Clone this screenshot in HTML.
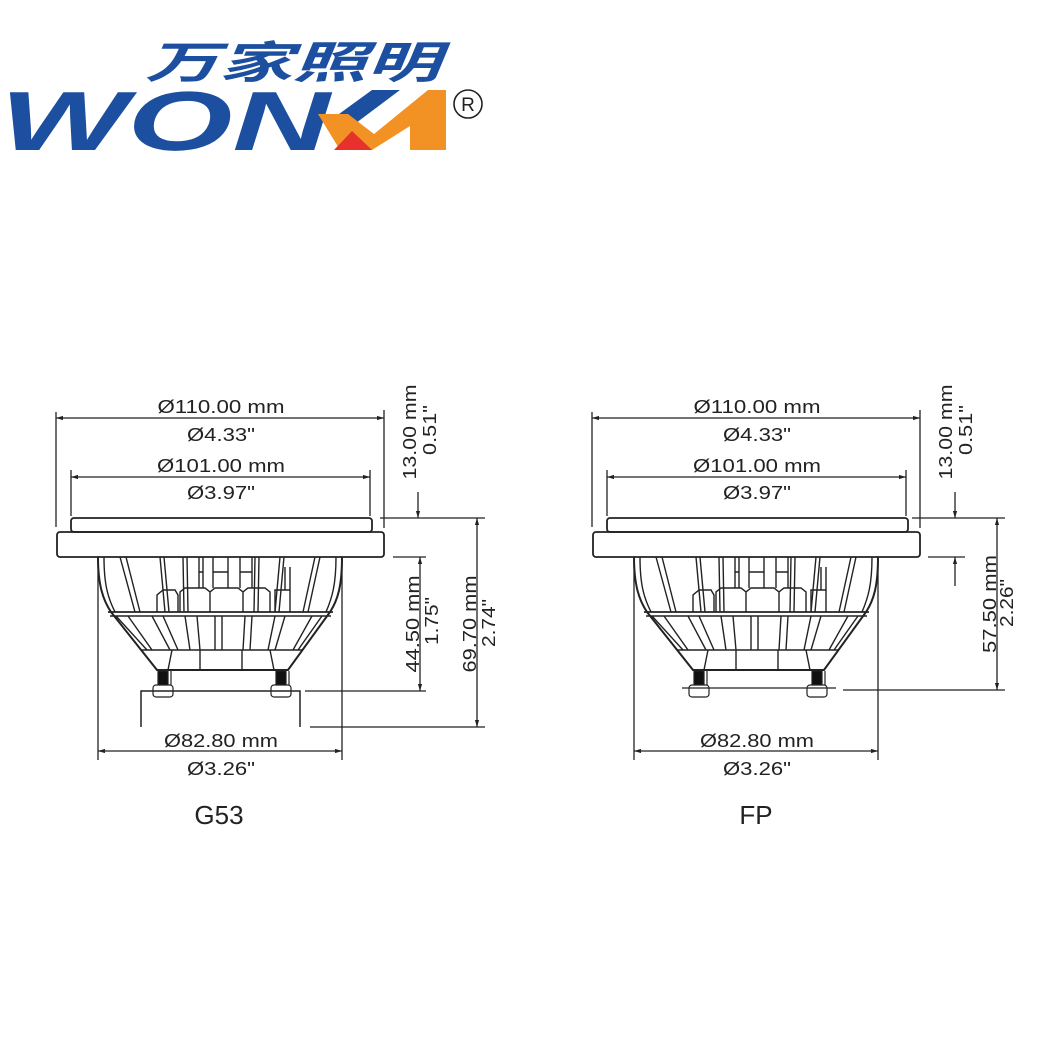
<!DOCTYPE html>
<html><head><meta charset="utf-8"><style>
html,body{margin:0;padding:0;background:#fff;}
svg{display:block;}
text{font-family:"Liberation Sans","Noto Sans CJK SC",sans-serif;fill:#222;}
</style></head><body>
<svg width="1060" height="1060" viewBox="0 0 1060 1060" xmlns="http://www.w3.org/2000/svg">
<defs>
<marker id="a" viewBox="0 0 10 10" refX="10" refY="5" markerWidth="7" markerHeight="7" orient="auto-start-reverse" markerUnits="userSpaceOnUse"><path d="M0,2 L10,5 L0,8 z" fill="#222"/></marker>
<g id="lamp" stroke="#222" fill="none" stroke-width="1.4">
  <rect x="71" y="518" width="301" height="14" rx="3" stroke-width="1.8"/>
  <rect x="57" y="532" width="327" height="25" rx="3" stroke-width="1.8"/>
  <path d="M98,557 C98,585 103,600 111,612 L157,670 L288,670 L330,612 C338,600 342,585 342,557" stroke-width="2"/>
  <path d="M104,557 C104,585 108,598 115,612 M336,557 C336,585 332,598 326,612"/>
  <line x1="108" y1="612" x2="333" y2="612" stroke-width="1.8"/>
  <line x1="110" y1="616" x2="331" y2="616"/>
  <line x1="141" y1="650" x2="303" y2="650"/>
  <line x1="157" y1="670" x2="288" y2="670"/>
  <path d="M120,557 L135,612 M126,557 L140,612 M160,557 L165,612 M164,557 L169,612 M183,557 L184,612 M187,557 L188,612 M255,557 L254,612 M259,557 L258,612 M280,557 L275,612 M284,557 L279,612 M315,557 L303,612 M320,557 L308,612"/>
  <path d="M157,612 L157,595 L163,590 L175,590 L178,595 L178,612 M180,612 L180,592 L185,588 L205,588 L210,592 L210,612 M210,612 L210,592 L215,588 L238,588 L243,592 L243,612 M243,612 L243,592 L248,588 L265,588 L270,592 L270,612 M275,612 L275,590 L290,590 L290,612"/>
  <path d="M199,588 L199,557 M203,588 L203,557 M199,572 L203,572 M213,588 L213,557 M228,588 L228,557 M213,572 L228,572 M240,588 L240,557 M252,588 L252,557 M240,572 L252,572 M285,590 L285,567 M290,590 L290,567"/>
  <path d="M116,616 L147,650 M128,616 L152,650 M152,616 L170,650 M163,616 L178,650 M185,616 L190,650 M197,616 L200,650 M215,616 L215,650 M222,616 L222,650 M245,616 L243,650 M252,616 L250,650 M275,616 L268,650 M285,616 L275,650 M312,616 L293,650 M322,616 L298,650"/>
  <path d="M172,650 L168,670 M270,650 L274,670 M200,650 L200,670 M242,650 L242,670"/>
</g>
<g id="pin" stroke="#222" stroke-width="1.2">
  <rect x="0" y="0" width="10" height="14" fill="#111"/>
  <line x1="13" y1="0" x2="13" y2="14" fill="none"/>
  <rect x="-5" y="14" width="20" height="12" rx="3" fill="#fff"/>
</g>
</defs>

<!-- LOGO -->
<text x="145" y="78" font-size="44" font-weight="bold" font-style="italic" style="fill:#1d4fa0" textLength="295" lengthAdjust="spacingAndGlyphs">万家照明</text>
<text x="0" y="150" font-size="84" font-weight="bold" font-style="italic" style="fill:#1d4fa0" textLength="330" lengthAdjust="spacingAndGlyphs">WON</text>
<polygon points="328,122 372,90 400,90 352,126" fill="#1d4fa0"/>
<polygon points="318,114 348,114 374,134 428,90 446,90 446,150 410,150 410,126 372,150 340,150" fill="#f39224"/>
<polygon points="334,150 352,131 372,150" fill="#e8302c"/>
<circle cx="468" cy="104" r="14" fill="none" stroke="#222" stroke-width="1.6"/>
<text x="468" y="111" font-size="19" text-anchor="middle">R</text>

<!-- G53 -->
<use href="#lamp"/>
<use href="#pin" x="158" y="671"/>
<use href="#pin" x="276" y="671"/>
<path d="M141,727 L141,691 L300,691 L300,727" stroke="#222" stroke-width="1.5" fill="none"/>

<g stroke="#222" stroke-width="1.3" fill="none">
  <line x1="56" y1="412" x2="56" y2="527"/><line x1="384" y1="410" x2="384" y2="528"/>
  <line x1="56" y1="418" x2="384" y2="418" marker-start="url(#a)" marker-end="url(#a)"/>
  <line x1="71" y1="470" x2="71" y2="516"/><line x1="370" y1="470" x2="370" y2="516"/>
  <line x1="71" y1="477" x2="370" y2="477" marker-start="url(#a)" marker-end="url(#a)"/>
  <line x1="98" y1="560" x2="98" y2="760"/><line x1="342" y1="560" x2="342" y2="760"/>
  <line x1="98" y1="751" x2="342" y2="751" marker-start="url(#a)" marker-end="url(#a)"/>
  <line x1="418" y1="492" x2="418" y2="518" marker-end="url(#a)"/>
  <line x1="380" y1="518" x2="485" y2="518"/>
  <line x1="393" y1="557" x2="426" y2="557"/>
  <line x1="305" y1="691" x2="426" y2="691"/>
  <line x1="420" y1="557" x2="420" y2="691" marker-start="url(#a)" marker-end="url(#a)"/>
  <line x1="310" y1="727" x2="485" y2="727"/>
  <line x1="477" y1="518" x2="477" y2="727" marker-start="url(#a)" marker-end="url(#a)"/>
</g>
<g font-size="18">
<rect x="157" y="397" width="128" height="18" fill="#fff"/>
<text x="221" y="413" text-anchor="middle" textLength="127" lengthAdjust="spacingAndGlyphs">Ø110.00 mm</text>
<text x="221" y="441" text-anchor="middle" textLength="68" lengthAdjust="spacingAndGlyphs">Ø4.33"</text>
<rect x="156" y="456" width="130" height="18" fill="#fff"/>
<text x="221" y="472" text-anchor="middle" textLength="128" lengthAdjust="spacingAndGlyphs">Ø101.00 mm</text>
<text x="221" y="499" text-anchor="middle" textLength="68" lengthAdjust="spacingAndGlyphs">Ø3.97"</text>
<rect x="163" y="733" width="116" height="16" fill="#fff"/>
<text x="221" y="747" text-anchor="middle" textLength="114" lengthAdjust="spacingAndGlyphs">Ø82.80 mm</text>
<text x="221" y="775" text-anchor="middle" textLength="68" lengthAdjust="spacingAndGlyphs">Ø3.26"</text>
<text transform="translate(416,432) rotate(-90)" text-anchor="middle" textLength="95" lengthAdjust="spacingAndGlyphs">13.00 mm</text>
<text transform="translate(436,430) rotate(-90)" text-anchor="middle" textLength="50" lengthAdjust="spacingAndGlyphs">0.51"</text>
<rect x="402" y="575" width="17" height="97" fill="#fff"/>
<text transform="translate(419,624) rotate(-90)" text-anchor="middle" textLength="97" lengthAdjust="spacingAndGlyphs">44.50 mm</text>
<text transform="translate(438,621) rotate(-90)" text-anchor="middle" textLength="48" lengthAdjust="spacingAndGlyphs">1.75"</text>
<rect x="458" y="575" width="18" height="97" fill="#fff"/>
<text transform="translate(476,624) rotate(-90)" text-anchor="middle" textLength="97" lengthAdjust="spacingAndGlyphs">69.70 mm</text>
<text transform="translate(495,623) rotate(-90)" text-anchor="middle" textLength="48" lengthAdjust="spacingAndGlyphs">2.74"</text>
</g>
<text x="219" y="824" font-size="26" text-anchor="middle">G53</text>

<!-- FP -->
<g transform="translate(536,0)">
<use href="#lamp"/>
<use href="#pin" x="158" y="671"/>
<use href="#pin" x="276" y="671"/>
<path d="M146,688 L300,688" stroke="#222" stroke-width="1.3" fill="none"/>
<g stroke="#222" stroke-width="1.3" fill="none">
  <line x1="56" y1="412" x2="56" y2="527"/><line x1="384" y1="410" x2="384" y2="528"/>
  <line x1="56" y1="418" x2="384" y2="418" marker-start="url(#a)" marker-end="url(#a)"/>
  <line x1="71" y1="470" x2="71" y2="516"/><line x1="370" y1="470" x2="370" y2="516"/>
  <line x1="71" y1="477" x2="370" y2="477" marker-start="url(#a)" marker-end="url(#a)"/>
  <line x1="98" y1="560" x2="98" y2="760"/><line x1="342" y1="560" x2="342" y2="760"/>
  <line x1="98" y1="751" x2="342" y2="751" marker-start="url(#a)" marker-end="url(#a)"/>
  <line x1="419" y1="492" x2="419" y2="518" marker-end="url(#a)"/>
  <line x1="376" y1="518" x2="469" y2="518"/>
  <line x1="392" y1="557" x2="429" y2="557"/>
  <line x1="419" y1="586" x2="419" y2="557" marker-end="url(#a)"/>
  <line x1="307" y1="690" x2="469" y2="690"/>
  <line x1="461" y1="518" x2="461" y2="690" marker-start="url(#a)" marker-end="url(#a)"/>
</g>
<g font-size="18">
<rect x="157" y="397" width="128" height="18" fill="#fff"/>
<text x="221" y="413" text-anchor="middle" textLength="127" lengthAdjust="spacingAndGlyphs">Ø110.00 mm</text>
<text x="221" y="441" text-anchor="middle" textLength="68" lengthAdjust="spacingAndGlyphs">Ø4.33"</text>
<rect x="156" y="456" width="130" height="18" fill="#fff"/>
<text x="221" y="472" text-anchor="middle" textLength="128" lengthAdjust="spacingAndGlyphs">Ø101.00 mm</text>
<text x="221" y="499" text-anchor="middle" textLength="68" lengthAdjust="spacingAndGlyphs">Ø3.97"</text>
<rect x="163" y="733" width="116" height="16" fill="#fff"/>
<text x="221" y="747" text-anchor="middle" textLength="114" lengthAdjust="spacingAndGlyphs">Ø82.80 mm</text>
<text x="221" y="775" text-anchor="middle" textLength="68" lengthAdjust="spacingAndGlyphs">Ø3.26"</text>
<text transform="translate(416,432) rotate(-90)" text-anchor="middle" textLength="95" lengthAdjust="spacingAndGlyphs">13.00 mm</text>
<text transform="translate(436,430) rotate(-90)" text-anchor="middle" textLength="50" lengthAdjust="spacingAndGlyphs">0.51"</text>
<rect x="442" y="555" width="18" height="98" fill="#fff"/>
<text transform="translate(460,604) rotate(-90)" text-anchor="middle" textLength="98" lengthAdjust="spacingAndGlyphs">57.50 mm</text>
<text transform="translate(477,603) rotate(-90)" text-anchor="middle" textLength="48" lengthAdjust="spacingAndGlyphs">2.26"</text>
</g>
</g>
<text x="756" y="824" font-size="26" text-anchor="middle">FP</text>
</svg>
</body></html>
